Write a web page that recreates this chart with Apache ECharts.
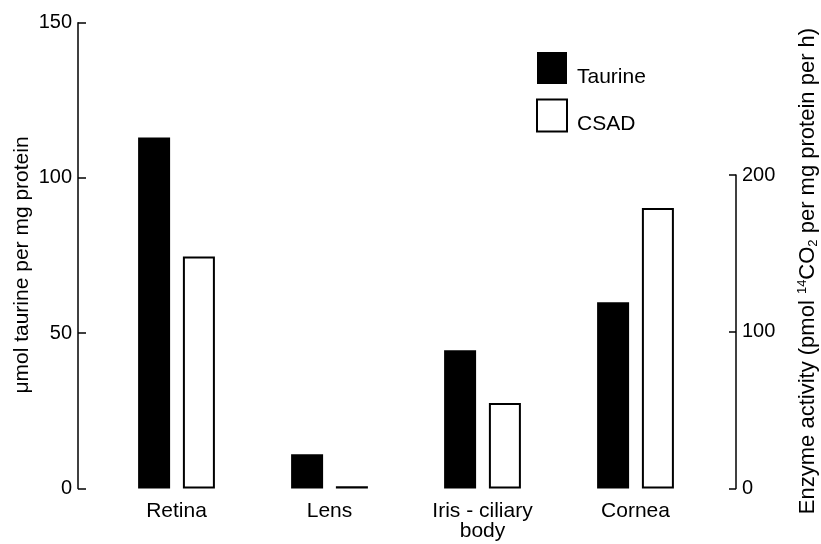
<!DOCTYPE html>
<html>
<head>
<meta charset="utf-8">
<script src="https://cdn.jsdelivr.net/npm/echarts@6/dist/echarts.min.js"></script>
<style>
  html, body { margin: 0; padding: 0; background: #fff; }
  #chart { width: 821px; height: 544px; }
</style>
</head>
<body>
<div id="chart"></div>
<script>
const categories = ['Retina', 'Lens', 'Iris - ciliary\nbody', 'Cornea'];
const taurine = [113, 11, 44.5, 60];      // µmol taurine per mg protein (left axis)
const csad = [148, 1.5, 54.5, 179];       // enzyme activity (right axis)
const padding = [null, null, null, null]; // empty slot series to keep side-by-side positions

const FONT = '"Liberation Sans", Arial, Helvetica, sans-serif';
const chart = echarts.init(document.getElementById('chart'), null, { renderer: 'canvas' });

const axisLineStyle = { color: '#000', width: 1.5 };

chart.setOption({
  animation: false,
  backgroundColor: '#fff',
  textStyle: { fontFamily: FONT, color: '#000' },
  grid: [
    { left: 100, right: 109, top: 22.7, bottom: 55.5 },
    { left: 100, right: 109, top: 175, bottom: 55.5 }
  ],
  legend: {
    data: ['Taurine', 'CSAD'],
    orient: 'vertical',
    left: 536,
    top: 52,
    padding: 0,
    itemWidth: 30,
    itemHeight: 32,
    itemGap: 11,
    icon: 'rect',
    formatter: '{t|{name}}',
    textStyle: {
      fontSize: 21, color: '#000', fontFamily: FONT,
      rich: { t: { fontSize: 21, fontFamily: FONT, color: '#000', padding: [18, 0, 0, 5] } }
    }
  },
  xAxis: [
    {
      gridIndex: 0,
      type: 'category',
      data: categories,
      axisLine: { show: false },
      axisTick: { show: false },
      splitLine: { show: false },
      axisLabel: { interval: 0, fontSize: 21, color: '#000', fontFamily: FONT, margin: 13, lineHeight: 20 }
    },
    {
      gridIndex: 1,
      type: 'category',
      data: categories,
      show: false
    }
  ],
  yAxis: [
    {
      gridIndex: 0,
      type: 'value',
      position: 'left',
      offset: 22,
      min: 0,
      max: 150,
      interval: 50,
      axisLine: { show: true, lineStyle: axisLineStyle },
      axisTick: { show: true, inside: true, length: 8, lineStyle: axisLineStyle },
      splitLine: { show: false },
      axisLabel: { fontSize: 20, color: '#000', fontFamily: FONT, margin: 6 }
    },
    {
      gridIndex: 1,
      type: 'value',
      position: 'right',
      offset: 24,
      min: 0,
      max: 200,
      interval: 100,
      axisLine: { show: true, lineStyle: axisLineStyle },
      axisTick: { show: true, inside: true, length: 7, lineStyle: axisLineStyle },
      splitLine: { show: false },
      axisLabel: { fontSize: 20, color: '#000', fontFamily: FONT, margin: 6 }
    }
  ],
  series: [
    {
      name: 'Taurine', type: 'bar', xAxisIndex: 0, yAxisIndex: 0,
      data: taurine, barWidth: 32, barGap: '40%',
      itemStyle: { color: '#000' }
    },
    {
      name: 'slotA', type: 'bar', xAxisIndex: 0, yAxisIndex: 0,
      data: padding, barWidth: 32, silent: true
    },
    {
      name: 'slotB', type: 'bar', xAxisIndex: 1, yAxisIndex: 1,
      data: padding, barWidth: 32, barGap: '40%', silent: true
    },
    {
      name: 'CSAD', type: 'bar', xAxisIndex: 1, yAxisIndex: 1,
      data: csad, barWidth: 32,
      itemStyle: { color: '#fff', borderColor: '#000', borderWidth: 2 }
    }
  ],
  graphic: [
    {
      type: 'text',
      x: 22, y: 265,
      rotation: Math.PI / 2,
      style: {
        text: 'μmol taurine per mg protein',
        fontSize: 21, fontFamily: FONT, fill: '#000',
        align: 'center', verticalAlign: 'middle'
      }
    },
    {
      type: 'text',
      x: 808, y: 271,
      rotation: Math.PI / 2,
      style: {
        text: 'Enzyme activity (pmol {sup|14}CO{sub|2} per mg protein per h)',
        fontSize: 22, fontFamily: FONT, fill: '#000',
        align: 'center', verticalAlign: 'middle',
        rich: {
          sup: { fontSize: 13, fontFamily: FONT, fill: '#000', verticalAlign: 'top', lineHeight: 24 },
          sub: { fontSize: 13, fontFamily: FONT, fill: '#000', verticalAlign: 'bottom', lineHeight: 24 }
        }
      }
    }
  ]
});
</script>
</body>
</html>
